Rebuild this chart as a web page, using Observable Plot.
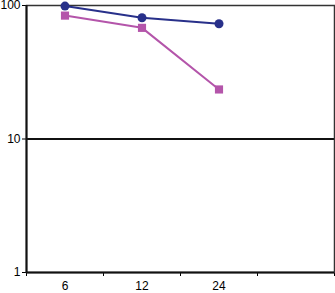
<!DOCTYPE html>
<html>
<head>
<meta charset="utf-8">
<script src="https://cdn.jsdelivr.net/npm/d3@7"></script>
<script src="https://cdn.jsdelivr.net/npm/@observablehq/plot@0.6"></script>
<style>
  html, body { margin: 0; padding: 0; background: #fff; }
  #chart svg { display: block; }
</style>
</head>
<body>
<div id="chart"></div>
<script>
// Categories (months) and series values
const categories = ["6", "12", "24"];
const seriesA = [99, 81, 73];   // navy circles
const seriesB = [84, 68, 23.5]; // magenta squares
const yTicks = [1, 10, 100];

const rows = [];
categories.forEach((c, i) => {
  rows.push({pos: i + 0.5, cat: c, value: seriesA[i], series: "A"});
});
categories.forEach((c, i) => {
  rows.push({pos: i + 0.5, cat: c, value: seriesB[i], series: "B"});
});
const rowsA = rows.filter(d => d.series === "A");
const rowsB = rows.filter(d => d.series === "B");
const navy = "#28308a";
const pink = "#b455aa";

const chart = Plot.plot({
  width: 335,
  height: 293,
  marginLeft: 26,
  marginRight: 1,
  marginTop: 5,
  marginBottom: 21,
  style: {fontFamily: "'Liberation Sans Narrow', 'Arial Narrow', 'Liberation Sans', sans-serif", fontSize: "12px", color: "#000"},
  x: {type: "linear", domain: [0, categories.length + 1]},
  y: {type: "log", domain: [1, 100]},
  marks: [
    Plot.axisY({ticks: yTicks, tickFormat: d => String(d), tickSize: 4, tickPadding: 2, label: null, fontSize: 12}),
    Plot.axisX({ticks: d3.range(0, categories.length + 2), tickFormat: () => "", tickSize: 4, label: null}),
    Plot.axisX({ticks: categories.map((c, i) => i + 0.5), tickFormat: v => categories[Math.floor(v)], tickSize: 0, tickPadding: 9, label: null, fontSize: 12}),
    Plot.ruleY([10], {stroke: "#111", strokeWidth: 2}),
    Plot.frame({stroke: "#333", strokeWidth: 1.5}),
    Plot.ruleX([0], {stroke: "#111", strokeWidth: 2}),
    Plot.ruleY([1], {stroke: "#111", strokeWidth: 2}),
    Plot.line(rowsA, {x: "pos", y: "value", stroke: navy, strokeWidth: 2}),
    Plot.line(rowsB, {x: "pos", y: "value", stroke: pink, strokeWidth: 2}),
    Plot.dot(rowsA, {x: "pos", y: "value", fill: navy, r: 4.5, symbol: "circle"}),
    Plot.dot(rowsB, {x: "pos", y: "value", fill: pink, r: 4.6, symbol: "square"})
  ]
});
document.getElementById("chart").appendChild(chart);
</script>
</body>
</html>
